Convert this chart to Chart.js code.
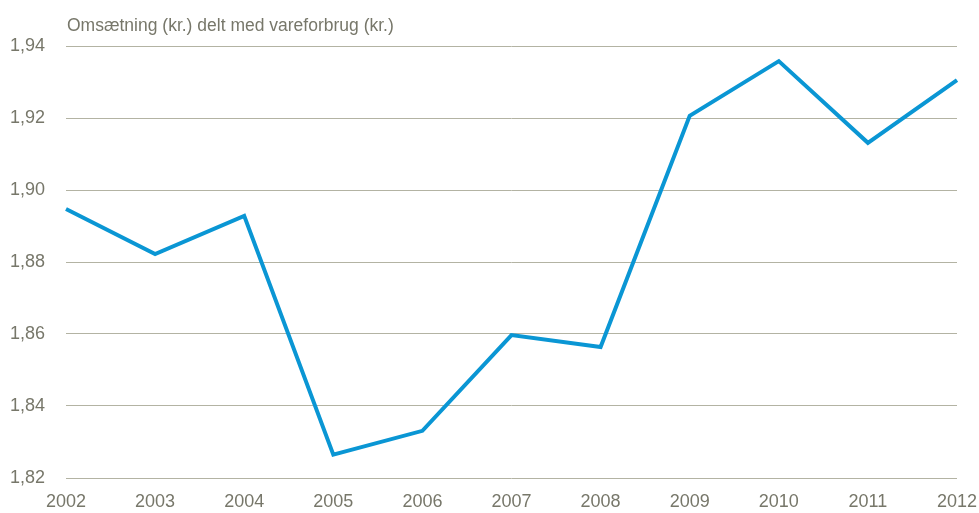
<!DOCTYPE html>
<html>
<head>
<meta charset="utf-8">
<script src="https://cdn.jsdelivr.net/npm/chart.js@4/dist/chart.umd.min.js"></script>
<style>
html,body{margin:0;padding:0;background:#fff;}
#c{display:block;}
</style>
</head>
<body>
<canvas id="c" width="979" height="513"></canvas>
<script>
const years = ["2002","2003","2004","2005","2006","2007","2008","2009","2010","2011","2012"];
const ratio = [1.8947, 1.8822, 1.8928, 1.8265, 1.8331, 1.8597, 1.8564, 1.9206, 1.9358, 1.9131, 1.9305];
const yTicks = [1.82, 1.84, 1.86, 1.88, 1.90, 1.92, 1.94];
const unitTitle = "Omsætning (kr.) delt med vareforbrug (kr.)";

const FONT = "'Liberation Sans Narrow', 'Liberation Sans', Arial, sans-serif";
const TXT = "#77776a";

const titlePlugin = {
  id: 'unitTitle',
  afterDraw(chart) {
    const ctx = chart.ctx;
    ctx.save();
    ctx.font = "17.5px " + FONT;
    ctx.fillStyle = TXT;
    ctx.textAlign = "left";
    ctx.textBaseline = "middle";
    ctx.fillText(unitTitle, chart.chartArea.left + 1, 26);
    ctx.restore();
  }
};

new Chart(document.getElementById('c'), {
  type: 'line',
  data: {
    labels: years,
    datasets: [{
      data: ratio,
      borderColor: '#0a96d4',
      borderWidth: 4,
      pointRadius: 0,
      tension: 0,
      fill: false,
      borderJoinStyle: 'miter',
      borderCapStyle: 'butt'
    }]
  },
  options: {
    responsive: false,
    animation: false,
    layout: { padding: { top: 46, right: 22, left: 0, bottom: 0 } },
    plugins: { legend: { display: false }, tooltip: { enabled: false } },
    scales: {
      x: {
        offset: false,
        grid: { display: false, drawTicks: false },
        border: { display: false },
        ticks: { color: TXT, font: { family: FONT, size: 18 }, padding: 13, maxRotation: 0, autoSkip: false },
        afterFit(s) { s.height = 35; s.paddingLeft = 0; s.paddingRight = 0; }
      },
      y: {
        min: 1.82, max: 1.94,
        afterBuildTicks(s) { s.ticks = yTicks.map(v => ({ value: v })); },
        grid: { color: '#b3b3a3', lineWidth: 1, drawTicks: false },
        border: { display: false },
        ticks: {
          color: TXT, font: { family: FONT, size: 18 }, padding: 21,
          callback: v => Number(v).toFixed(2).replace('.', ',')
        },
        afterFit(s) { s.width = 66; s.paddingTop = 0; s.paddingBottom = 0; }
      }
    }
  },
  plugins: [titlePlugin]
});
</script>
</body>
</html>
